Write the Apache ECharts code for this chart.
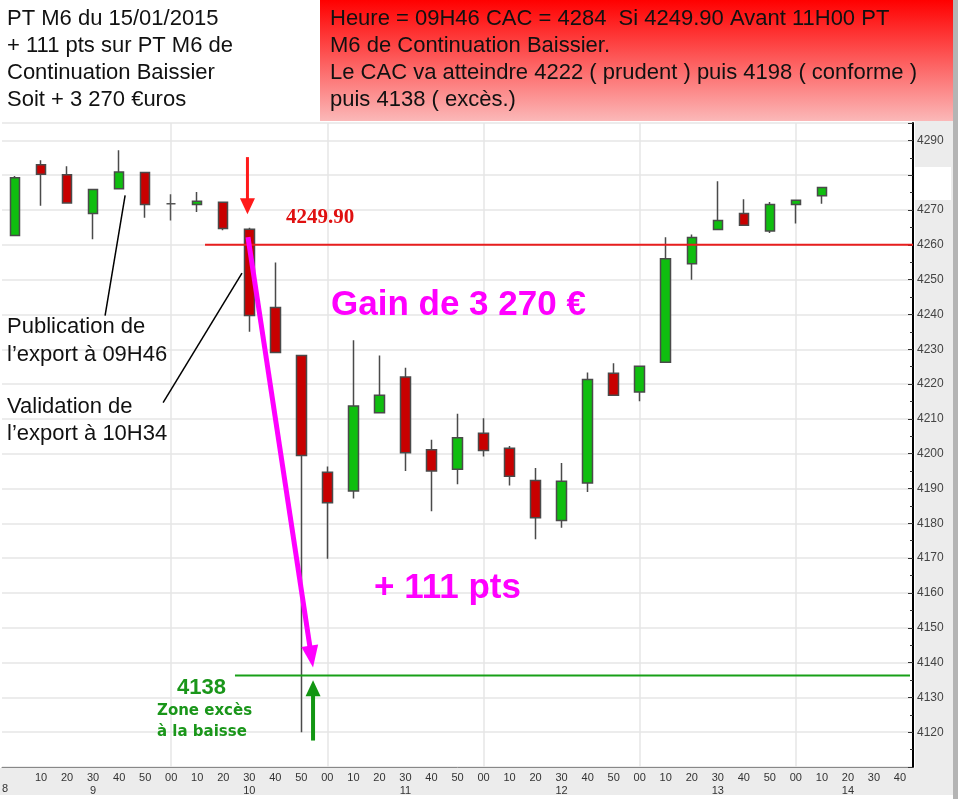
<!DOCTYPE html>
<html><head><meta charset="utf-8">
<script src="https://cdn.jsdelivr.net/npm/echarts@6/dist/echarts.min.js"></script>
<style>html,body{margin:0;padding:0;background:#fff;}#c{width:958px;height:799px;}</style>
</head><body><div id="c"></div>
<script>
// ---- data ----
const categories = ['09:00','09:10','09:20','09:30','09:40','09:50','10:00','10:10','10:20','10:30','10:40','10:50',
  '11:00','11:10','11:20','11:30','11:40','11:50','12:00','12:10','12:20','12:30','12:40','12:50',
  '13:00','13:10','13:20','13:30','13:40','13:50','14:00','14:10','14:20','14:30','14:40'];
const hourLabels = ['','','','9','','','','','','10','','','','','','11','','','','','','12','','',
  '','','','13','','','','','14','',''];
const opens  = [4262.7,4283.0,4280.1,4269.0,4276.1,4280.8,4271.8,4271.6,4272.2,4264.5,4242.0,4228.2,
  4194.7,4189.3,4211.8,4222.0,4201.1,4195.5,4205.9,4201.6,4192.3,4180.8,4191.6,4223.1,
  4217.7,4226.3,4254.6,4264.4,4269.0,4264.0,4271.6,4274.1];
const closes = [4279.3,4280.3,4272.0,4275.9,4280.9,4271.6,4271.8,4272.5,4264.7,4239.7,4229.1,4199.5,
  4185.9,4213.7,4216.8,4200.3,4195.0,4204.6,4200.9,4193.5,4181.6,4192.1,4221.3,4216.8,
  4225.1,4256.0,4262.1,4267.0,4265.6,4271.6,4272.8,4276.5];
const lows   = [4262.5,4271.2,4272.0,4261.6,4276.1,4267.8,4267.0,4269.4,4264.2,4235.0,4229.1,4120.0,
  4169.8,4187.1,4211.8,4195.0,4183.5,4191.2,4199.2,4190.9,4175.4,4178.7,4189.0,4216.8,
  4215.1,4226.3,4250.0,4264.4,4265.6,4263.4,4266.1,4271.8];
const highs  = [4279.8,4284.3,4282.6,4275.9,4287.2,4280.8,4274.5,4275.2,4272.2,4264.9,4254.9,4228.2,
  4196.3,4232.6,4228.2,4224.7,4204.0,4211.5,4210.2,4202.2,4195.9,4197.3,4223.3,4226.0,
  4225.1,4262.2,4263.0,4278.3,4273.1,4272.3,4272.8,4276.5];
const yTicksHidden = [4110, 4280];
const redLevel = 4260;      // drawn level of the 4249.90 trigger line
const greenLevel = 4136.3;  // drawn level of the 4138 target line

const chart = echarts.init(document.getElementById('c'));
const candleData = opens.map((o, i) => {
  const item = { value: [o, closes[i], lows[i], highs[i]] };
  if (o === closes[i]) item.itemStyle = { borderColor: '#555', borderColor0: '#555' };
  return item;
});
const hourIdx = [6, 12, 18, 24, 30];

chart.setOption({
  animation: false,
  backgroundColor: '#fff',
  grid: { left: 2, right: 45, top: 123, bottom: 32 },
  xAxis: {
    type: 'category', data: categories, boundaryGap: true,
    axisLine: { lineStyle: { color: '#888', width: 1 } },
    axisTick: { inside: true, alignWithLabel: true, interval: 0, length: 3, lineStyle: { color: '#555' } },
    splitLine: { show: false },
    axisLabel: {
      interval: 0, margin: 4, color: '#333', fontSize: 11, lineHeight: 13,
      fontFamily: 'Liberation Sans, Arial',
      formatter: (v, i) => (i === 0 ? ' ' : v.slice(3)) + '\n' + (hourLabels[i] || ' ')
    }
  },
  yAxis: {
    type: 'value', position: 'right', min: 4110, max: 4295, interval: 10, scale: true,
    axisLine: { show: true, lineStyle: { color: '#000', width: 2 } },
    axisTick: { show: true, inside: true, length: 5, lineStyle: { color: '#333' } },
    minorTick: { show: true, splitNumber: 2, length: 3, lineStyle: { color: '#333' } },
    splitLine: { show: true, lineStyle: { color: '#e6e6e6', width: 1.5 } },
    axisLabel: {
      margin: 4, color: '#444', fontSize: 12, fontFamily: 'Liberation Sans, Arial',
      showMaxLabel: false,
      formatter: v => (v % 10 === 0 && yTicksHidden.indexOf(v) < 0) ? String(v) : ''
    }
  },
  series: [{
    type: 'candlestick',
    data: candleData,
    barWidth: 10,
    itemStyle: {
      color: '#0fbe0f', color0: '#c80000',
      borderColor: '#4a4a4a', borderColor0: '#4a4a4a', borderWidth: 1.5
    },
    markLine: {
      z: 1, silent: true, symbol: 'none', label: { show: false },
      lineStyle: { color: '#e6e6e6', width: 1.5, type: 'solid' },
      data: hourIdx.map(i => ({ xAxis: i }))
    },
    z: 3
  }]
});

function px(i, v) {
  const i0 = Math.floor(i), f = i - i0;
  const a = chart.convertToPixel({ gridIndex: 0 }, [i0, v]);
  if (f === 0) return a;
  const b = chart.convertToPixel({ gridIndex: 0 }, [i0 + 1, v]);
  return [a[0] + (b[0] - a[0]) * f, a[1]];
}
function arrow(p0, p1, w, L, W, color) {
  const dx = p1[0] - p0[0], dy = p1[1] - p0[1], len = Math.hypot(dx, dy);
  const ux = dx / len, uy = dy / len, nx = -uy, ny = ux;
  const bx = p1[0] - ux * L, by = p1[1] - uy * L;
  return [
    { type: 'line', z: 100, shape: { x1: p0[0], y1: p0[1], x2: bx + ux * 2, y2: by + uy * 2 },
      style: { stroke: color, lineWidth: w } },
    { type: 'polygon', z: 100, shape: { points: [[p1[0], p1[1]], [bx + nx * W / 2, by + ny * W / 2], [bx - nx * W / 2, by - ny * W / 2]] },
      style: { fill: color } }
  ];
}
const F = 'Liberation Sans, Arial, sans-serif';
function txt(x, y, s, size, color, weight, family) {
  return { type: 'text', z: 110, x: x, y: y,
    style: { text: s, fill: color, font: (weight || 'normal') + ' ' + size + 'px ' + (family || F), verticalAlign: 'middle' } };
}

const axisX = 913;
const rl0 = px(7.3, redLevel), gl0 = px(8.45, greenLevel);
const g = [];
// background bands
g.push({ type: 'rect', z: -10, shape: { x: 0, y: 768, width: 953, height: 27 }, style: { fill: '#ececec' } });
g.push({ type: 'rect', z: -10, shape: { x: 915, y: 118, width: 38, height: 677 }, style: { fill: '#ececec' } });
g.push({ type: 'rect', z: 50, shape: { x: 915, y: 167, width: 36, height: 33 }, style: { fill: '#fff' } });
g.push({ type: 'rect', z: 50, shape: { x: 953, y: 0, width: 5, height: 799 }, style: { fill: '#b4b4b4' } });
// header boxes
g.push({ type: 'rect', z: 50, shape: { x: 0, y: 0, width: 320, height: 121 }, style: { fill: '#fff' } });
g.push({ type: 'rect', z: 50, shape: { x: 320, y: 0, width: 633, height: 121 },
  style: { fill: new echarts.graphic.LinearGradient(0, 0, 0, 1, [{ offset: 0, color: '#ff0000' }, { offset: 1, color: '#fbb8b8' }]) } });
['PT M6 du 15/01/2015', '+ 111 pts sur PT M6 de', 'Continuation Baissier', 'Soit + 3 270 \u20acuros'].forEach((s, k) =>
  g.push(txt(7, 19 + k * 27, s, 22, '#111')));
['Heure = 09H46 CAC = 4284  Si 4249.90 Avant 11H00 PT', 'M6 de Continuation Baissier.',
 'Le CAC va atteindre 4222 ( prudent ) puis 4198 ( conforme )', 'puis 4138 ( exc\u00e8s.)'].forEach((s, k) =>
  g.push(txt(330, 19 + k * 27, s, 22, '#111')));
// level lines
g.push({ type: 'line', z: 90, shape: { x1: rl0[0], y1: rl0[1], x2: axisX, y2: rl0[1] }, style: { stroke: '#e81e1e', lineWidth: 2 } });
g.push({ type: 'line', z: 90, shape: { x1: gl0[0], y1: gl0[1], x2: axisX - 3, y2: gl0[1] }, style: { stroke: '#18a018', lineWidth: 2 } });
// arrows
g.push(...arrow(px(8.95, 4262.2), px(11.45, 4138.6), 5, 22, 17, '#ff00ff'));
g.push(...arrow(px(8.93, 4285.2), px(8.93, 4268.8), 3, 16, 15, '#ff1a1a'));
g.push(...arrow(px(11.45, 4117.6), px(11.45, 4134.9), 4, 16, 15, '#129612'));
// pointer lines
const a1 = px(4.23, 4274.2), a2 = px(3.46, 4239.7), b1 = px(5.69, 4214.7), b2 = px(8.72, 4251.9);
g.push({ type: 'line', z: 100, shape: { x1: a1[0], y1: a1[1], x2: a2[0], y2: a2[1] }, style: { stroke: '#000', lineWidth: 1.5 } });
g.push({ type: 'line', z: 100, shape: { x1: b1[0], y1: b1[1], x2: b2[0], y2: b2[1] }, style: { stroke: '#000', lineWidth: 1.5 } });
// annotation texts
g.push(txt(7, 327, 'Publication de', 22, '#111'));
g.push(txt(7, 355, 'l\u2019export \u00e0 09H46', 22, '#111'));
g.push(txt(7, 407, 'Validation de', 22, '#111'));
g.push(txt(7, 434, 'l\u2019export \u00e0 10H34', 22, '#111'));
g.push(txt(286, 218, '4249.90', 21, '#e01010', 'bold', 'Liberation Serif, Times New Roman, serif'));
g.push(txt(331, 305, 'Gain de 3 270 \u20ac', 35, '#ff00ff', 'bold'));
g.push(txt(374, 588, '+ 111 pts', 35, '#ff00ff', 'bold'));
g.push(txt(177, 688, '4138', 22, '#1a961a', 'bold'));
g.push(txt(157, 711, 'Zone exc\u00e8s', 15, '#1a961a', 'bold', 'DejaVu Sans, sans-serif'));
g.push(txt(157, 732, '\u00e0 la baisse', 15, '#1a961a', 'bold', 'DejaVu Sans, sans-serif'));
g.push(txt(2, 789, '8', 11, '#333'));
chart.setOption({ graphic: { elements: g } });
</script>
</body></html>
